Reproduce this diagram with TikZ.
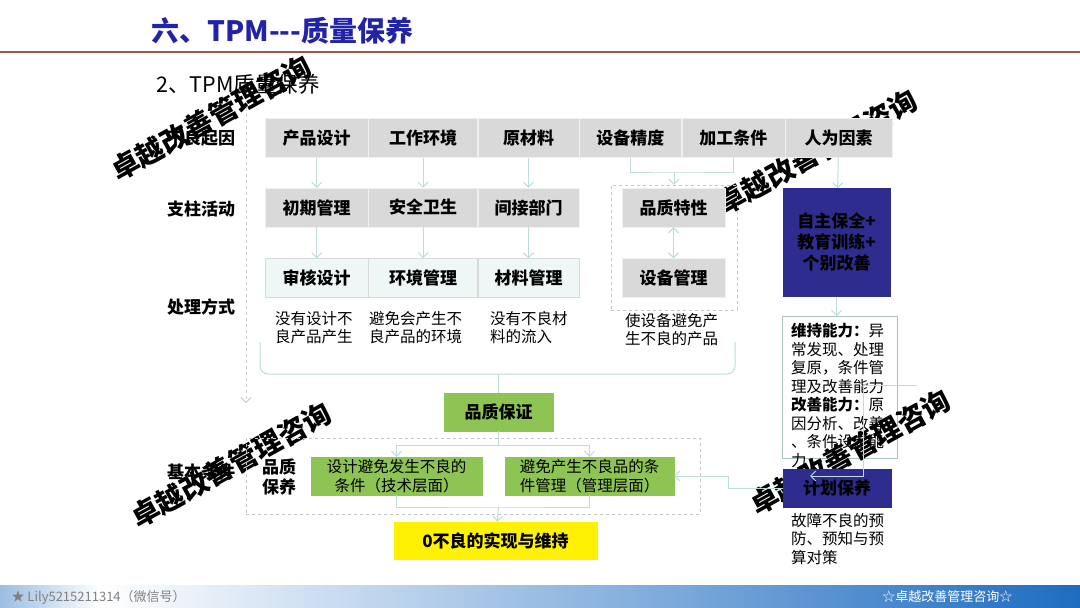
\documentclass[tikz,border=0pt]{standalone}
\usepackage{fontspec}
\setmainfont{Noto Sans CJK SC}
\usepackage{xcolor}
\usepackage{tikz}
\usetikzlibrary{arrows.meta,positioning}

\definecolor{cellgray}{HTML}{D9D9D9}
\definecolor{cellline}{HTML}{F0F0F0}
\definecolor{cellcyan}{HTML}{EEF6F6}
\definecolor{navyfill}{HTML}{2E2D8F}
\definecolor{leaf}{HTML}{8DC454}
\definecolor{linkc}{HTML}{BCDDD9}
\definecolor{titleblue}{HTML}{2323A8}
\definecolor{rulec}{HTML}{9E5555}
\definecolor{footblue}{HTML}{1E6CC0}

\begin{document}
\begin{tikzpicture}[
  x=1pt, y=-1pt,
  cell/.style={draw=cellline, fill=cellgray, minimum height=39pt, inner sep=0pt, font=\fontsize{17}{20}\selectfont\bfseries},
  soft/.style={cell, fill=cellcyan, draw=cellgray},
  navybox/.style={draw=navyfill, fill=navyfill, text=black, inner sep=0pt, align=center, font=\fontsize{17}{21}\selectfont\bfseries},
  leafbox/.style={cell, fill=leaf, draw=leaf, minimum height=38pt, align=center},
  goal/.style={cell, fill=yellow, draw=yellow, minimum height=37pt},
  dashbox/.style={draw=gray!45, dashed, inner sep=0pt},
  note/.style={align=left, inner sep=0pt, anchor=north west, font=\fontsize{15.5}{18.5}\selectfont},
  rowname/.style={inner sep=0pt, font=\fontsize{17}{20}\selectfont\bfseries},
  wm/.style={inner sep=0pt, rotate=29, font=\fontsize{28}{28}\selectfont\bfseries},
  line/.style={draw=linkc, line width=1pt},
  link/.style={line, -{Straight Barb[length=5pt]}}
]
\useasboundingbox (0,0) rectangle (1080,608);

\node[anchor=west, text=titleblue, font=\fontsize{28}{28}\selectfont\bfseries] (title) at (148,31) {六、TPM-{}-{}-质量保养};
\draw[rulec, line width=1.2pt] (0,52) -- (1080,52);
\node[anchor=west, font=\fontsize{21.5}{21.5}\selectfont] (subtitle) at (153,84) {2、TPM质量保养};

\node[rowname] (causename) at (201,138) {不良起因};
\node[rowname] (pillarname) at (201,209) {支柱活动};
\node[rowname] (methodname) at (201,307) {处理方式};
\node[rowname] (basename) at (201,472) {基本条件};

\node[draw=linkc!70!gray, minimum width=115pt, minimum height=142pt, inner sep=0pt, anchor=north west] (ability) at (782,316) {};
\node[note] (abilitytext) at (791,323) {\textbf{维持能力：}异\\常发现、处理\\复原，条件管\\理及改善能力\\\textbf{改善能力：}原\\因分析、改善\\、条件设定能\\力};

\node[wm] (wmone) at (211,118) {卓越改善管理咨询};
\node[wm] (wmtwo) at (817,152) {卓越改善管理咨询};
\node[wm] (wmthree) at (231,465) {卓越改善管理咨询};
\node[wm] (wmfour) at (850,452) {卓越改善管理咨询};

\node[cell, minimum width=103pt, anchor=west] (design) at (265,138) {产品设计};
\node[cell, minimum width=109pt, right=0pt of design] (workenv) {工作环境};
\node[cell, minimum width=101pt, right=0pt of workenv] (material) {原材料};
\node[cell, minimum width=102pt, right=0pt of material] (precision) {设备精度};
\node[cell, minimum width=103pt, right=0pt of precision] (process) {加工条件};
\node[cell, minimum width=107pt, right=0pt of process] (human) {人为因素};

\node[cell, minimum width=103pt, anchor=west] (early) at (265,207.5) {初期管理};
\node[cell, minimum width=109pt, right=0pt of early] (safety) {安全卫生};
\node[cell, minimum width=101pt, right=0pt of safety] (indirect) {间接部门};

\node[soft, minimum width=103pt, anchor=west] (review) at (265,278) {审核设计};
\node[soft, minimum width=109pt, right=0pt of review] (envmgmt) {环境管理};
\node[soft, minimum width=101pt, right=0pt of envmgmt] (matmgmt) {材料管理};

\node[note] (reviewnote) at (275,311) {没有设计不\\良产品产生};
\node[note] (envnote) at (369,311) {避免会产生不\\良产品的环境};
\node[note] (matnote) at (490,311) {没有不良材\\料的流入};

\node[dashbox, minimum width=126pt, minimum height=125pt] (eqgroup) at (674,247.5) {};
\node[cell, minimum width=103pt] (trait) at (673.5,207.5) {品质特性};
\node[cell, minimum width=103pt] (equip) at (673.5,278) {设备管理};
\node[note] (equipnote) at (625,313) {使设备避免产\\生不良的产品};

\node[navybox, minimum width=107pt, minimum height=108pt] (self) at (836.5,242.5) {自主保全+\\教育训练+\\个别改善};
\node[navybox, minimum width=108pt, minimum height=38pt] (planned) at (837,488) {计划保养};
\node[note] (plannote) at (791,513) {故障不良的预\\防、预知与预\\算对策};

\node[leafbox, minimum width=109pt] (assure) at (498.5,412) {品质保证};
\node[dashbox, minimum width=454pt, minimum height=76pt] (basegroup) at (473,476) {};
\node[align=center, inner sep=0pt, font=\fontsize{17}{20}\selectfont\bfseries] (keepname) at (279,477) {品质\\保养};
\node[leafbox, minimum width=171pt, font=\fontsize{15.5}{19}\selectfont] (techcond) at (396.5,476) {设计避免发生不良的\\条件（技术层面）};
\node[leafbox, minimum width=169pt, font=\fontsize{15.5}{19}\selectfont] (mgmtcond) at (589.5,476) {避免产生不良品的条\\件管理（管理层面）};
\node[goal, minimum width=203pt] (zero) at (495.5,540.5) {0不良的实现与维持};

\foreach \a/\b in {design/early, workenv/safety, material/indirect, early/review, safety/envmgmt, indirect/matmgmt}
  \draw[link] (\a) -- (\b);
\draw[link, {Straight Barb[length=5pt]}-{Straight Barb[length=5pt]}] (trait) -- (equip);
\coordinate (join) at (674,172);
\draw[line] (precision.south) |- (join) -| (process.south);
\draw[link] (join) -- (eqgroup.north);
\draw[link] (human) -- (self);
\draw[link] (self.south) -- (self.south |- ability.north);

\coordinate (railtop) at (246,108);
\coordinate (railend) at (246,403);
\draw[link, draw=gray!40, dashed] (railtop) -- (railend);

\coordinate (braceL) at (260,342);
\coordinate (braceR) at (735,342);
\coordinate (bracetip) at (498.5,374);
\draw[line, rounded corners=8pt] (braceL) |- (bracetip) -| (braceR);
\draw[line] (bracetip) -- (assure.north);

\coordinate (split) at (498.5,445);
\coordinate (merge) at (498.5,507);
\draw[line] (assure) -- (split);
\draw[link] (split) -| (techcond.north);
\draw[link] (split) -| (mgmtcond.north);
\draw[line] (techcond.south) |- (merge) -| (mgmtcond.south);
\draw[link] (merge) -- (zero);

\coordinate (jog) at (728,476);
\draw[link] (planned.west) -| (jog) -- (mgmtcond.east);
\coordinate (loopstart) at (917,385);
\coordinate (loopturn) at (863,385);
\coordinate (loopend) at (810,476);
\draw[link] (loopstart) -- (loopturn) |- (loopend);

\shade[left color=footblue!45, right color=white] (0,585) rectangle (100,608);
\shade[left color=white, right color=footblue] (100,585) rectangle (1080,608);
\node[anchor=west, text=gray, font=\fontsize{13}{13}\selectfont] (wechat) at (8,597) {★ Lily5215211314（微信号）};
\node[anchor=east, text=white, font=\fontsize{13}{13}\selectfont] (brand) at (1016,597) {☆卓越改善管理咨询☆};
\end{tikzpicture}
\end{document}
